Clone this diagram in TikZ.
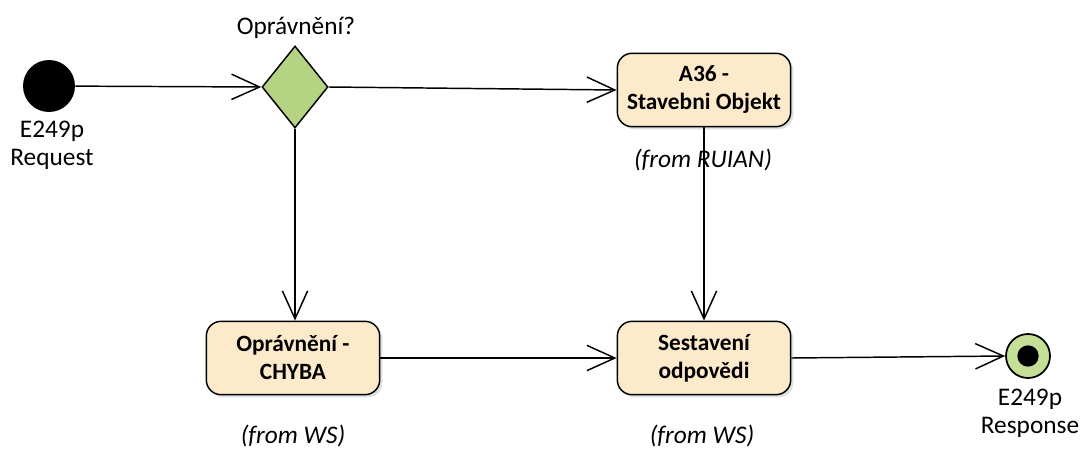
\documentclass[tikz,border=0pt]{standalone}
\usepackage{fontspec}
\setmainfont{Carlito}
\usetikzlibrary{arrows.meta,shapes.geometric,shadows}
\definecolor{actfill}{RGB}{252,234,203}
\definecolor{decfill}{RGB}{180,212,132}
\definecolor{endfill}{RGB}{196,224,150}
\begin{document}
\begin{tikzpicture}[x=0.75pt,y=-0.75pt,
  conn/.style={line width=1.1pt,-{Straight Barb[length=21pt,width=19pt,line width=1.1pt]}},
  act/.style={draw,line width=1.1pt,fill=actfill,rounded corners=11pt,minimum width=130pt,minimum height=55pt,align=center,font=\fontsize{17.5}{21}\selectfont\bfseries,drop shadow={shadow xshift=2pt,shadow yshift=-2pt,opacity=0.25}},
  lbl/.style={font=\fontsize{19}{21}\selectfont,inner sep=0pt},
  from/.style={font=\fontsize{19}{21}\selectfont\itshape,inner sep=0pt}]
\useasboundingbox (0,0) rectangle (1080,449);
\node[circle,fill=black,minimum size=39pt,inner sep=0pt] (start) at (49,86) {};
\node[lbl,align=center] (startlbl) at (52,145) {E249p\\Request};
\node[diamond,draw,line width=1.1pt,fill=decfill,minimum width=49.5pt,minimum height=61.5pt,inner sep=0pt,shape aspect=0.8] (dec) at (295,87) {};
\node[lbl] (declbl) at (296,28) {Oprávnění?};
\node[act] (a36) at (704,90) {A36 -\\Stavebni Objekt};
\node[from] (a36from) at (703,160) {(from RUIAN)};
\node[act] (chyba) at (293,358) {Oprávnění -\\CHYBA};
\node[from] (chybafrom) at (293,436) {(from WS)};
\node[act] (sest) at (704,358) {Sestavení\\odpovědi};
\node[from] (sestfrom) at (702,436) {(from WS)};
\node[circle,draw,line width=1.3pt,fill=endfill,minimum size=33pt,inner sep=0pt] (end) at (1028,356) {};
\node[circle,fill=black,minimum size=16pt,inner sep=0pt] (enddot) at (end) {};
\node[lbl,align=center] (endlbl) at (1030,413) {E249p\\Response};
\draw[conn] (start) -- (dec.west);
\draw[conn] (dec.east) -- (a36.west);
\draw[conn] (dec.south) -- (dec.south |- chyba.north);
\draw[conn] (a36.south) -- (sest.north);
\draw[conn] (chyba.east) -- (sest.west);
\draw[conn] (sest.east) -- (end.west);
\end{tikzpicture}
\end{document}
